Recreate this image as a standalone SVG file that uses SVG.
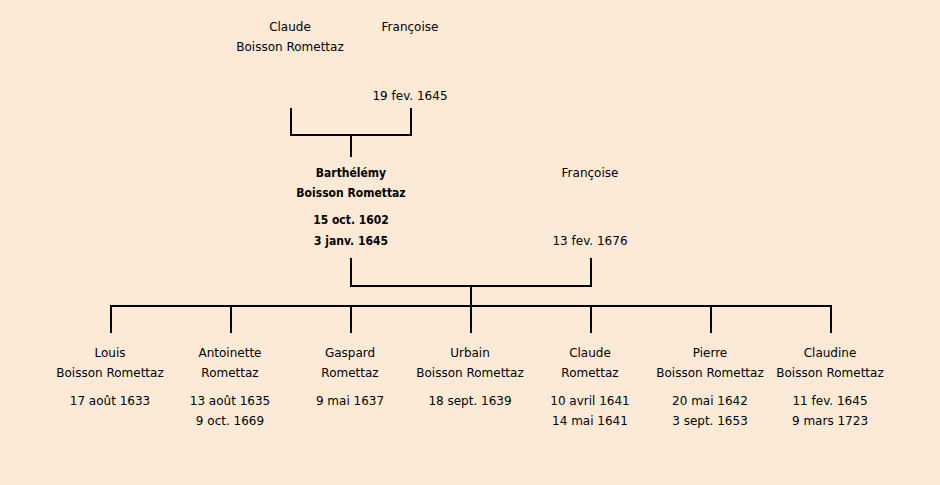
<svg xmlns="http://www.w3.org/2000/svg" width="940" height="485" viewBox="0 0 940 485">
<style>
text{font-family:"DejaVu Sans","Liberation Sans",sans-serif;font-size:12px;fill:#000;text-anchor:middle}
.b{font-family:"DejaVu Sans Condensed","DejaVu Sans",sans-serif;font-weight:bold;font-size:12px}
.c path{stroke:#000;stroke-width:2;fill:none}
</style>
<rect width="940" height="485" fill="#FCEAD7"/>
<g class="c" id="connectors">
<path d="M291,108V135H411V108M351,135V157"/>
<path d="M351,258V286H591V258M471,286V306"/>
<path d="M111,333V306H831V333M231,306V333M351,306V333M471,306V333M591,306V333M711,306V333"/>
</g>
<g id="claude"><text x="290" y="31">Claude</text><text x="290" y="51">Boisson Romettaz</text></g>
<g id="francoise1"><text x="410" y="31">Françoise</text><text x="410" y="100">19 fev. 1645</text></g>
<g id="barthelemy"><text class="b" x="351" y="177">Barthélémy</text><text class="b" x="351" y="197">Boisson Romettaz</text><text class="b" x="351" y="224">15 oct. 1602</text><text class="b" x="351" y="245">3 janv. 1645</text></g>
<g id="francoise2"><text x="590" y="177">Françoise</text><text x="590" y="245">13 fev. 1676</text></g>
<g id="louis"><text x="110" y="357">Louis</text><text x="110" y="377">Boisson Romettaz</text><text x="110" y="405">17 août 1633</text></g>
<g id="antoinette"><text x="230" y="357">Antoinette</text><text x="230" y="377">Romettaz</text><text x="230" y="405">13 août 1635</text><text x="230" y="425">9 oct. 1669</text></g>
<g id="gaspard"><text x="350" y="357">Gaspard</text><text x="350" y="377">Romettaz</text><text x="350" y="405">9 mai 1637</text></g>
<g id="urbain"><text x="470" y="357">Urbain</text><text x="470" y="377">Boisson Romettaz</text><text x="470" y="405">18 sept. 1639</text></g>
<g id="claude2"><text x="590" y="357">Claude</text><text x="590" y="377">Romettaz</text><text x="590" y="405">10 avril 1641</text><text x="590" y="425">14 mai 1641</text></g>
<g id="pierre"><text x="710" y="357">Pierre</text><text x="710" y="377">Boisson Romettaz</text><text x="710" y="405">20 mai 1642</text><text x="710" y="425">3 sept. 1653</text></g>
<g id="claudine"><text x="830" y="357">Claudine</text><text x="830" y="377">Boisson Romettaz</text><text x="830" y="405">11 fev. 1645</text><text x="830" y="425">9 mars 1723</text></g>
</svg>
